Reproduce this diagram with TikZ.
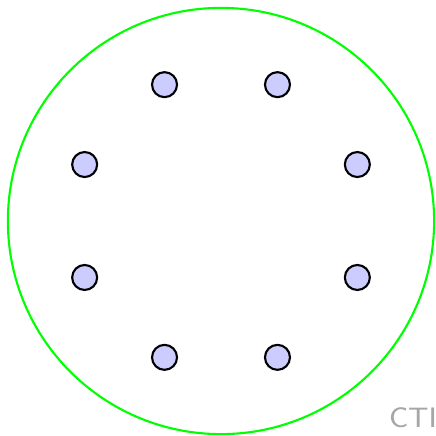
\documentclass[tikz,border=0pt]{standalone}
\usetikzlibrary{positioning,calc}
\definecolor{dotfill}{RGB}{204,204,255}
\tikzset{
  ring/.style={circle,draw=green,line width=0.6pt,minimum size=4.26cm,inner sep=0pt},
  dot/.style={circle,draw=black,line width=0.6pt,fill=dotfill,minimum size=0.25cm,inner sep=0pt}
}
\begin{document}
\begin{tikzpicture}[x=0.01cm,y=-0.01cm]
  \useasboundingbox (0,0) rectangle (435,436);
  \node[ring] (ring) at (221,221) {};
  \foreach \a [count=\i] in {22.5,67.5,...,337.5}
    \node[dot] (dot\i) at ($(ring.center)+(\a:1.475cm)$) {};
  \node[font=\sffamily\fontsize{8}{8}\selectfont,text=gray!70,inner sep=0pt] (logo) at (413,418) {CTI};
\end{tikzpicture}
\end{document}
